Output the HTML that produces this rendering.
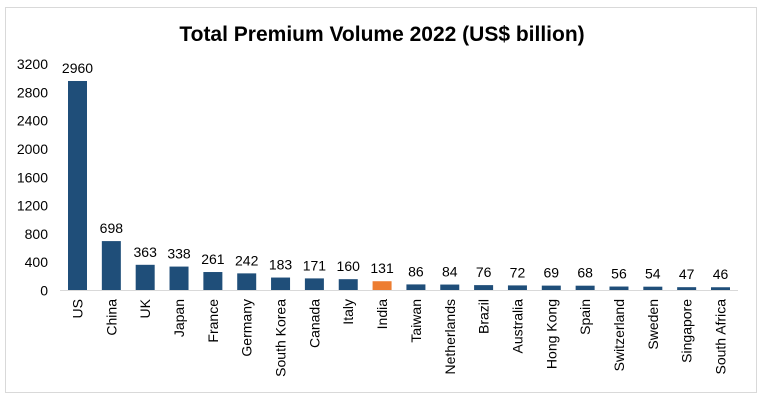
<!DOCTYPE html>
<html><head><meta charset="utf-8"><style>
body{margin:0;background:#fff;}
svg{display:block;font-family:"Liberation Sans",Arial,sans-serif;}
</style></head><body>
<svg id="chart" width="762" height="400">
<rect x="5.5" y="7.5" width="751" height="385" fill="#fff" stroke="#d9d9d9"/>
<text x="382" y="41" text-anchor="middle" font-size="21" font-weight="bold" fill="#000">Total Premium Volume 2022 (US$ billion)</text>
<g id="yaxis"></g>
<g id="bars"></g>
<line x1="60" y1="290.5" x2="738" y2="290.5" stroke="#d9d9d9"/>
<g id="xlabels"></g>
</svg>
<script>
const categories=["US","China","UK","Japan","France","Germany","South Korea","Canada","Italy","India","Taiwan","Netherlands","Brazil","Australia","Hong Kong","Spain","Switzerland","Sweden","Singapore","South Africa"];
const values=[2960,698,363,338,261,242,183,171,160,131,86,84,76,72,69,68,56,54,47,46];
const yTicks=[0,400,800,1200,1600,2000,2400,2800,3200];
const highlight="India";
const NS="http://www.w3.org/2000/svg";
const y0=290.5,yTop=64,yMax=3200;
function yScale(v){return y0-(v/yMax)*(y0-yTop);}
const x0=77.5,step=(720.5-77.5)/(categories.length-2);
function xScale(i){return x0+i*step*18/(categories.length-2)*((categories.length-2)/18);}
// recompute step so first center 77.5 and last 720.5
const stepX=(720.5-77.5)/(categories.length-1);
function xs(i){return x0+i*stepX;}
const yg=document.getElementById('yaxis');
yTicks.forEach(t=>{
  const tx=document.createElementNS(NS,'text');
  
  
  tx.setAttribute('x',48);tx.setAttribute('y',yScale(t)+5);
  tx.setAttribute('text-anchor','end');tx.setAttribute('font-size','14');
  tx.textContent=t;yg.appendChild(tx);
});
const bg=document.getElementById('bars'),xg=document.getElementById('xlabels');
const bw=19;
categories.forEach((c,i)=>{
  const cx=xs(i),v=values[i],yt=yScale(v);
  const r=document.createElementNS(NS,'rect');
  
  
  r.setAttribute('x',cx-bw/2);r.setAttribute('y',yt);
  r.setAttribute('width',bw);r.setAttribute('height',Math.max(y0-yt,0));
  r.setAttribute('fill',c===highlight?'#ed7d31':'#1f4e79');
  bg.appendChild(r);
  const vl=document.createElementNS(NS,'text');
  
  
  vl.setAttribute('x',cx);vl.setAttribute('y',yt-8);
  vl.setAttribute('text-anchor','middle');vl.setAttribute('font-size','14');
  vl.textContent=v;bg.appendChild(vl);
  const xl=document.createElementNS(NS,'text');
  
  
  xl.setAttribute('transform','translate('+(cx+5)+',299) rotate(-90)');
  xl.setAttribute('text-anchor','end');xl.setAttribute('font-size','14');
  xl.textContent=c;xg.appendChild(xl);
});
</script>
</body></html>
